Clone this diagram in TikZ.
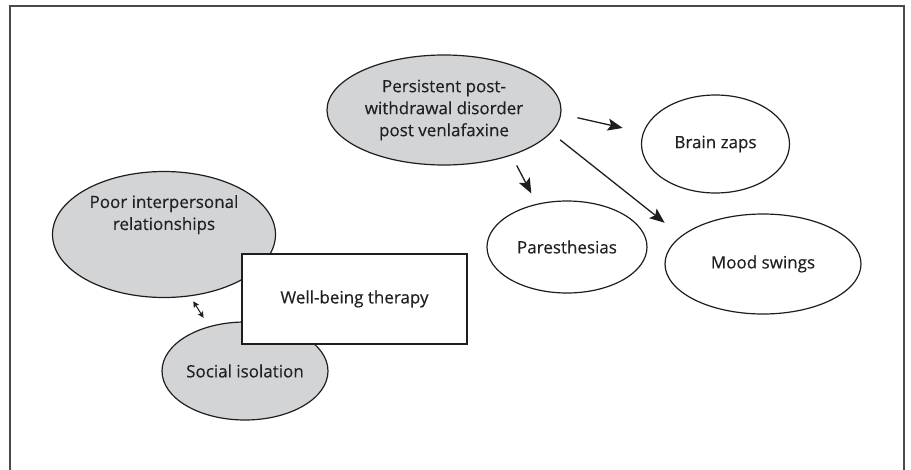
\documentclass[tikz,border=0pt]{standalone}
\usepackage{fontspec}
\setmainfont{Open Sans}
\newfontfamily\labelfont{Open Sans}[FakeBold=0.3]
\usetikzlibrary{shapes.geometric,arrows.meta}
\definecolor{inkc}{HTML}{1E1E1E}
\definecolor{txtc}{HTML}{202020}
\definecolor{shade}{HTML}{D3D4D6}
\definecolor{framec}{HTML}{4A4A4A}
\tikzset{
  bubble/.style={ellipse, draw=inkc, line width=1.2pt, inner sep=-14pt,
    text=txtc, align=center, font=\fontsize{17}{22}\labelfont},
  graybubble/.style={bubble, fill=shade},
  whitebubble/.style={bubble, fill=white},
  therapybox/.style={rectangle, draw=inkc, line width=1.4pt, fill=white,
    text=txtc, font=\fontsize{17}{22}\labelfont},
  link/.style={draw=inkc, line width=1.3pt,
    -{Stealth[length=15pt,width=12pt,inset=3pt]}},
  mutual/.style={draw=inkc, line width=1pt,
    {Stealth[length=6pt,width=6pt,inset=1pt]}-{Stealth[length=6pt,width=6pt,inset=1pt]}}
}
\begin{document}
\begin{tikzpicture}[x=1pt,y=-1pt]
  \useasboundingbox (0,0) rectangle (911,469);
  % open frame: its lower edge runs off the page
  \draw[framec, line width=2pt] (10,480) -- (10,6) -- (904,6) -- (904,480);

  % withdrawal syndrome and its symptoms
  \node[graybubble, minimum width=234pt, minimum height=110pt] (ppwd) at (444,110)
    {Persistent post-\\withdrawal disorder\\post venlafaxine};
  \node[whitebubble, minimum width=148pt, minimum height=98pt] (zaps) at (715.5,144)
    {Brain zaps};
  \node[whitebubble, minimum width=160pt, minimum height=92pt] (pares) at (567,247)
    {Paresthesias};
  \node[whitebubble, minimum width=196pt, minimum height=100pt] (mood) at (763,264)
    {Mood swings};

  % social consequences and treatment
  \node[graybubble, minimum width=223pt, minimum height=126pt] (poor) at (164,234.5)
    {Poor interpersonal\\relationships\\[22pt]};
  \node[graybubble, minimum width=166pt, minimum height=98pt] (social) at (245,371)
    {Social isolation};
  \node[therapybox, minimum width=225pt, minimum height=90pt] (wbt) at (354.5,299)
    {Well-being therapy};

  % connectors
  \draw[link, shorten <=16.5pt, shorten >=20.7pt] (ppwd.-2) -- (zaps.171);
  \draw[link, shorten <=11.2pt, shorten >=11.7pt] (ppwd.-34) -- (pares.125);
  \draw[link, shorten <=11.4pt, shorten >=21pt] (ppwd.-12) -- (mood.161);
  \draw[mutual, shorten <=5.8pt, shorten >=10pt] (poor.-67) -- (social.129);
\end{tikzpicture}
\end{document}
